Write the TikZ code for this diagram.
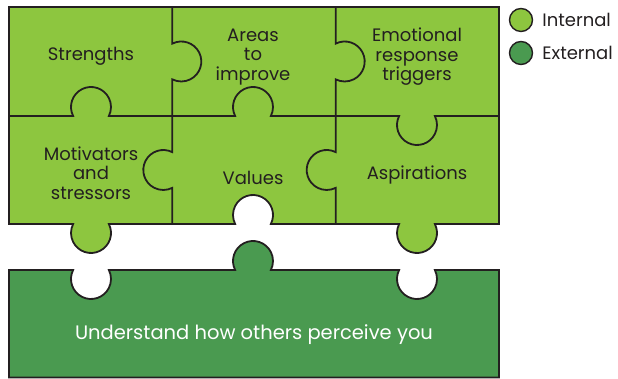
\documentclass[tikz,border=0pt]{standalone}
\usepackage{fontspec}
\setmainfont{Poppins}
\usetikzlibrary{positioning}
\definecolor{LeafGreen}{HTML}{8DC63F}
\definecolor{PineGreen}{HTML}{4A9A50}
\definecolor{PieceLine}{HTML}{231F20}

% puzzle knobs: radius 20, centre 9 off the edge, neck half-width 17.86
% #1 = knob position along the edge, #2 = edge, #3 = side (+1/-1)
\newcommand{\knobE}[3]{-- (#1-17.86,#2) arc[start angle={180+26.74*(#3)}, end angle={180-206.74*(#3)}, radius=20pt]}
\newcommand{\knobW}[3]{-- (#1+17.86,#2) arc[start angle={-26.74*(#3)}, end angle={206.74*(#3)}, radius=20pt]}
\newcommand{\knobS}[3]{-- (#2,#1+17.86) arc[start angle={90+26.74*(#3)}, end angle={90-206.74*(#3)}, radius=20pt]}

\tikzset{
  piece/.style={draw=PieceLine, line width=1.8pt},
  label/.style={align=center, text=PieceLine, inner sep=0pt, font=\fontsize{18}{19.5}\selectfont},
  legdot/.style={circle, draw=PieceLine, line width=1.4pt, minimum size=23pt, inner sep=0pt},
}

\begin{document}
\begin{tikzpicture}[x=1pt, y=1pt]
  \useasboundingbox (0,0) rectangle (618,379);

  % Internal pieces, outer edge
  \fill[LeafGreen] (9,372) -- (499,372) -- (499,155)
    \knobW{417}{155}{-1} \knobW{253}{155}{1} \knobW{91}{155}{-1}
    -- (9,155) -- cycle;
  \draw[piece] (9,372) -- (499,372) -- (499,155)
    \knobW{417}{155}{-1} \knobW{253}{155}{1} \knobW{91}{155}{-1}
    -- (9,155) -- cycle;

  % Seams between the pieces
  \draw[piece] (9,263) \knobE{91}{263}{1} \knobE{253}{263}{1} \knobE{417}{263}{-1} -- (499,263);
  \foreach \sx in {172.3, 335.7} {
    \draw[piece] (\sx,372) \knobS{317.5}{\sx}{1} \knobS{209}{\sx}{-1} -- (\sx,155);
  }

  % External piece
  \draw[piece, fill=PineGreen] (9,109)
    \knobE{91}{109}{-1} \knobE{253}{109}{1} \knobE{417}{109}{-1}
    -- (499,109) -- (499,1.5) -- (9,1.5) -- cycle;

  % Labels
  \node[label] (strengths) at (91,323) {Strengths};
  \node[label] (areas) at (253,322) {Areas\\to\\improve};
  \node[label] (emotional) at (417,322) {Emotional\\response\\triggers};
  \node[label] (motivators) at (91,206) {Motivators\\and\\stressors};
  \node[label] (values) at (253,201) {Values};
  \node[label] (aspirations) at (417,204) {Aspirations};
  \node[label, text=white, font=\fontsize{19.5}{21}\selectfont] (perceive) at (254,44) {Understand how others perceive you};

  % Legend
  \node[legdot, fill=LeafGreen] (intdot) at (521,359) {};
  \node[label, right=9pt of intdot] (intlab) {Internal};
  \node[legdot, fill=PineGreen] (extdot) at (521,326) {};
  \node[label, right=9pt of extdot] (extlab) {External};
\end{tikzpicture}
\end{document}
